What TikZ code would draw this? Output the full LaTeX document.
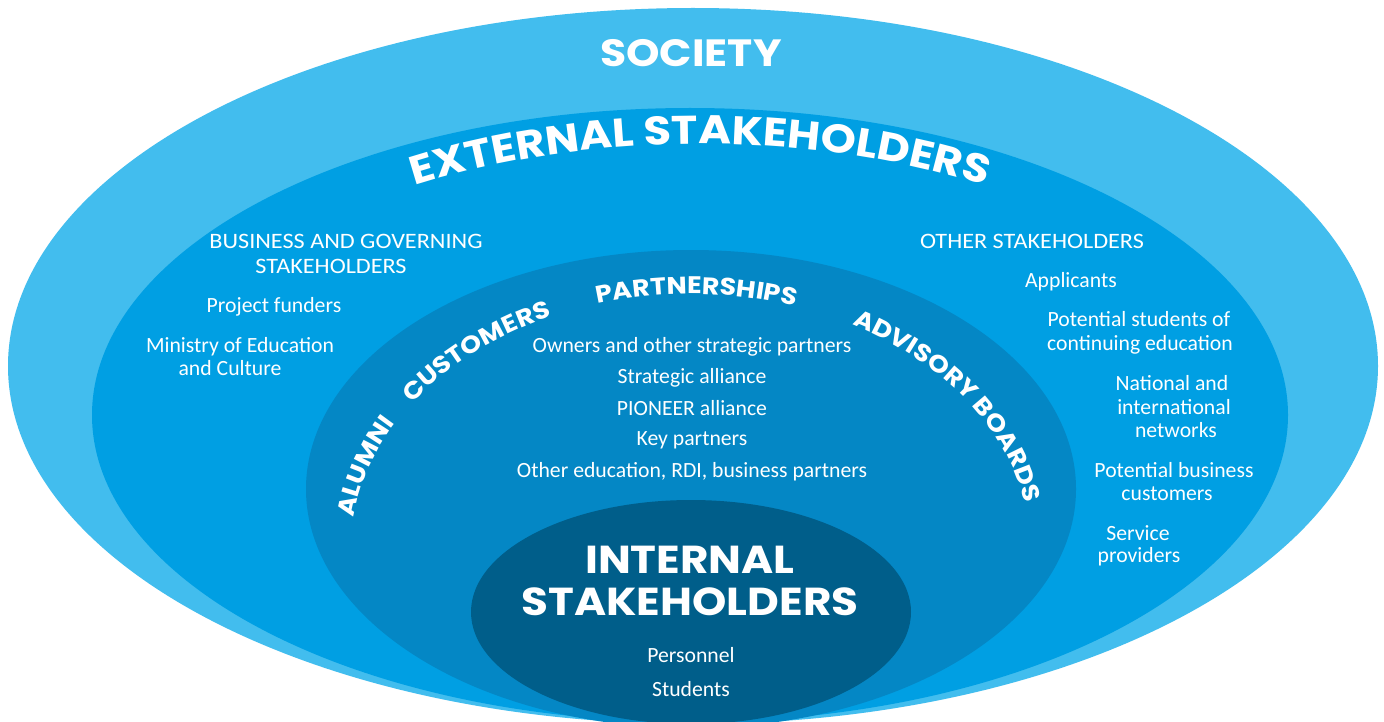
\documentclass[tikz,border=0pt]{standalone}
\usepackage{fontspec}
\setmainfont{Carlito}
\newfontfamily\headfont{Carlito}[FakeStretch=1.1]
\newfontfamily\dispfont{Poppins}[FakeStretch=1.12]
\usetikzlibrary{decorations.text,calc}

\definecolor{societyblue}{RGB}{66,189,238}
\definecolor{externalblue}{RGB}{0,159,227}
\definecolor{partnerblue}{RGB}{4,135,197}
\definecolor{internalblue}{RGB}{0,94,138}

% display faces for the ring titles
\newcommand\societyfont{\color{white}\dispfont\bfseries\fontsize{38}{38}\selectfont}
\newcommand\extfont{\color{white}\dispfont\bfseries\fontsize{40}{40}\selectfont}
\newcommand\ringfont{\color{white}\dispfont\bfseries\fontsize{24}{24}\selectfont}
\newcommand\intfont{\color{white}\dispfont\bfseries\fontsize{39}{39}\selectfont}

\tikzset{
  body/.style={text=white, font=\fontsize{21.7}{24}\selectfont, anchor=base, inner sep=0pt},
  headline/.style={body, font=\headfont\fontsize{22}{24}\selectfont},
  title/.style={text=white, anchor=base, inner sep=0pt},
  ringtext/.style={decorate, decoration={text along path, text align=center, text={#1}}}
}

\begin{document}
\begin{tikzpicture}[x=1pt,y=1pt]
  \useasboundingbox (0,0) rectangle (1384,-722);
  \fill[white] (0,0) rectangle (1384,-722);

  % nested rings
  \fill[societyblue]  (693,-366) ellipse[x radius=685pt, y radius=358pt];
  \fill[externalblue] (690,-415) ellipse[x radius=598pt, y radius=307pt];
  \fill[partnerblue]  (691,-489) ellipse[x radius=385pt, y radius=239pt];
  \fill[internalblue] (691,-612) ellipse[x radius=220pt, y radius=112pt];

  % ring titles
  \node[title, font=\societyfont] (society) at (691,-67) {SOCIETY};
  \path[ringtext={|\extfont|EXTERNAL STAKEHOLDERS}]
    ($(700,-444)+(140:560pt and 300pt)$) arc[start angle=140, end angle=40, x radius=560pt, y radius=300pt];

  \path[ringtext={|\ringfont|ALUMNI}]
    ($(691,-550)+(182:340pt and 256pt)$) arc[start angle=182, end angle=142, x radius=340pt, y radius=256pt];
  \path[ringtext={|\ringfont|CUSTOMERS}]
    ($(691,-550)+(161:340pt and 256pt)$) arc[start angle=161, end angle=101, x radius=340pt, y radius=256pt];
  \path[ringtext={|\ringfont|PARTNERSHIPS}]
    ($(691,-550)+(119:340pt and 256pt)$) arc[start angle=119, end angle=59, x radius=340pt, y radius=256pt];
  \path[ringtext={|\ringfont|ADVISORY BOARDS}]
    ($(691,-550)+(70:340pt and 256pt)$) arc[start angle=70, end angle=0, x radius=340pt, y radius=256pt];

  \node[title, font=\intfont] (int1) at (690,-573) {INTERNAL};
  \node[title, font=\intfont] (int2) at (690,-615) {STAKEHOLDERS};

  % business and governing stakeholders
  \node[headline] (bg1) at (346,-248) {BUSINESS AND GOVERNING};
  \node[headline] (bg2) at (331,-273) {STAKEHOLDERS};
  \node[body] (funders) at (274,-312) {Project funders};
  \node[body] (ministry1) at (240,-352) {Ministry of Education};
  \node[body] (ministry2) at (230,-375) {and Culture};

  % other stakeholders
  \node[headline] (other) at (1032,-248) {OTHER STAKEHOLDERS};
  \node[body] (applicants) at (1071,-287) {Applicants};
  \node[body] (potstud1) at (1139,-326) {Potential students of};
  \node[body] (potstud2) at (1140,-350) {continuing education};
  \node[body] (net1) at (1172,-390) {National and};
  \node[body] (net2) at (1174,-414) {international};
  \node[body] (net3) at (1176,-437) {networks};
  \node[body] (potbus1) at (1174,-477) {Potential business};
  \node[body] (potbus2) at (1167,-500) {customers};
  \node[body] (service1) at (1138,-540) {Service};
  \node[body] (service2) at (1139,-562) {providers};

  % partnerships
  \node[body] (owners) at (692,-352) {Owners and other strategic partners};
  \node[body] (strategic) at (692,-383) {Strategic alliance};
  \node[body] (pioneer) at (692,-415) {PIONEER alliance};
  \node[body] (key) at (692,-445) {Key partners};
  \node[body] (rdi) at (692,-477) {Other education, RDI, business partners};

  % internal stakeholders
  \node[body] (personnel) at (691,-662) {Personnel};
  \node[body] (students) at (691,-696) {Students};
\end{tikzpicture}
\end{document}
